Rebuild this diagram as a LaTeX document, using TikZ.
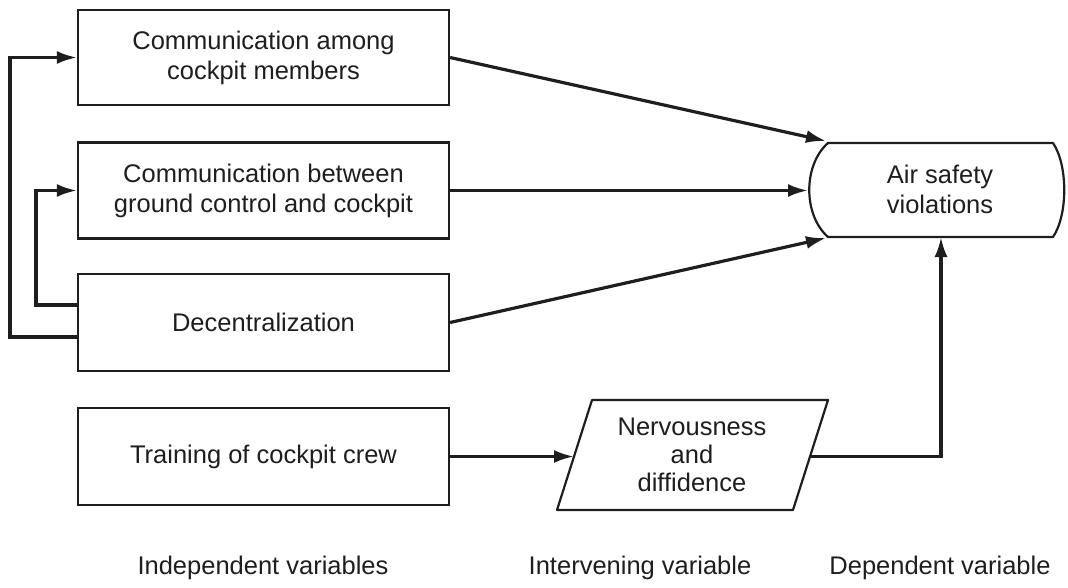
\documentclass[tikz,border=0pt]{standalone}
\usepackage{fontspec}
\setmainfont{Liberation Sans}
\usetikzlibrary{arrows.meta}
\definecolor{ink}{HTML}{1E1E1E}
\begin{document}
\begin{tikzpicture}[x=1pt,y=-1pt,
  every node/.style={font=\fontsize{25.5pt}{30pt}\selectfont, text=ink},
  varbox/.style={draw=ink, line width=2.2pt, minimum width=371pt, inner sep=0pt, align=center},
  conn/.style={draw=ink, line width=3.2pt},
  arr/.style={conn, -{Latex[length=20pt,width=13pt]}},
  outline/.style={draw=ink, line width=2.2pt, line join=round},
  caption/.style={anchor=base}]
\useasboundingbox (0,0) rectangle (1068,587);

% independent variables
\node[varbox, minimum height=95pt] (c1) at (263.5,57.5) {Communication among\\cockpit members};
\node[varbox, minimum height=96pt] (c2) at (263.5,190.5) {Communication between\\ground control and cockpit};
\node[varbox, minimum height=97pt] (c3) at (263.5,322.5) {Decentralization};
\node[varbox, minimum height=97pt] (c4) at (263.5,456.5) {Training of cockpit crew};

% dependent variable: flat box with bulging ends
\draw[outline] (828,143) -- (1053,143)
  .. controls (1068,165) and (1068,215) .. (1053,237)
  -- (828,237)
  .. controls (803,215) and (803,165) .. cycle;
\node[align=center] (air) at (940,189) {Air safety\\violations};
\coordinate (a1) at (826,141);
\coordinate (a2) at (808,190.5);
\coordinate (a3) at (826,238);
\coordinate (a4) at (941,237);

% intervening variable: parallelogram
\draw[outline] (592,400) -- (828,400) -- (793,510) -- (557,510) -- cycle;
\node[align=center, font=\fontsize{25.5pt}{28pt}\selectfont] (nerv) at (692,455) {Nervousness\\and\\diffidence};
\coordinate (nl) at (574,456.5);
\coordinate (nr) at (810,456.5);

% feedback links from decentralization
\draw[arr] ([yshift=-14.5pt]c3.west) -- ++(-67,0) |- (c1.west);
\draw[arr] ([yshift=17.5pt]c3.west) -- ++(-41,0) |- (c2.west);

% links into the dependent variable
\draw[arr] (c1.east) -- (a1);
\draw[arr] (c2.east) -- (a2);
\draw[arr] (c3.east) -- (a3);
\draw[arr] (c4.east) -- (nl);
\draw[arr] (nr) -| (a4);

% column captions
\node[caption] (capind) at (263,574) {Independent variables};
\node[caption] (capint) at (640,574) {Intervening variable};
\node[caption] (capdep) at (940,574) {Dependent variable};
\end{tikzpicture}
\end{document}
